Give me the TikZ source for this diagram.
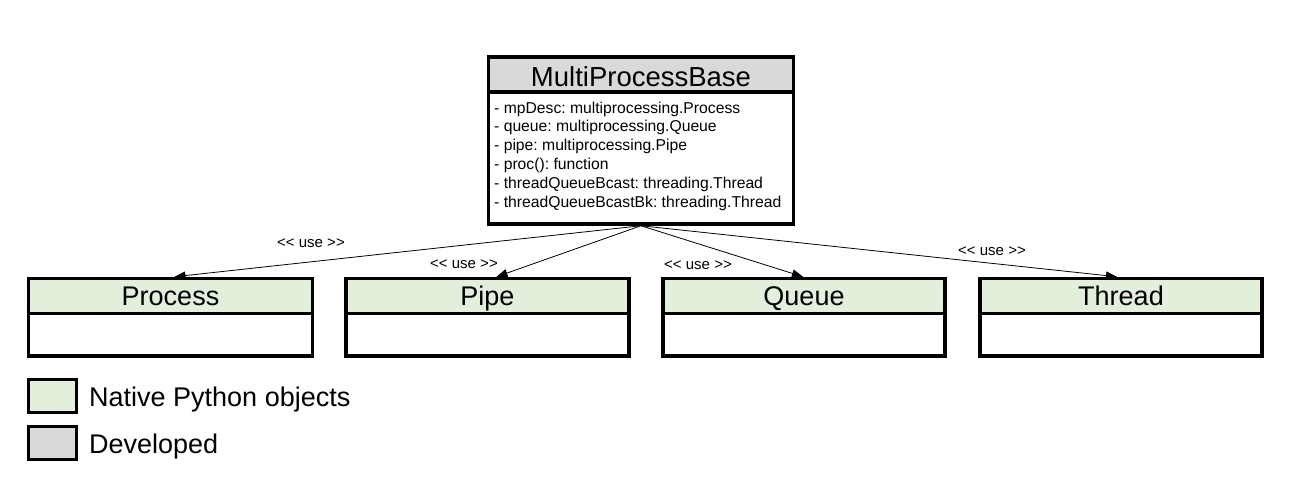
\documentclass[tikz,border=0pt]{standalone}
\usepackage{fontspec}
\setmainfont{Liberation Sans}
\usetikzlibrary{arrows.meta}
\definecolor{natgreen}{HTML}{E2EFDA}
\definecolor{devgray}{HTML}{D9D9D9}
\newcommand{\uselbltext}{\mbox{<}\mbox{<} use \mbox{>}\mbox{>}}
\tikzset{
  boxline/.style={draw=black, line width=3.5pt},
  titlebox/.style={boxline, rectangle, minimum height=35pt, inner sep=0pt, text height=23pt, text depth=4pt, font=\fontsize{27}{30}\selectfont},
  bodybox/.style={boxline, rectangle, fill=white, inner sep=0pt},
  usearrow/.style={draw=black, line width=0.8pt, -{Triangle[length=11pt,width=8pt]}},
  uselabel/.style={font=\fontsize{15}{18}\selectfont, inner sep=1pt},
  legendbox/.style={boxline, rectangle, minimum width=48pt, minimum height=33pt, inner sep=0pt},
  legendtext/.style={anchor=base west, inner sep=0pt, font=\fontsize{27}{32}\selectfont}
}
\begin{document}
\frenchspacing
\begin{tikzpicture}[x=1pt,y=-1pt]
\useasboundingbox (0,0) rectangle (1294,490);
% main class
\node[bodybox, minimum width=305pt, minimum height=132pt] (mainbody) at (641,158) {};
\node[titlebox, fill=devgray, minimum width=305pt, text height=27pt, font=\fontsize{27.5}{30}\selectfont] (main) at (641,74.5) {MultiProcessBase};
\node[anchor=north west, align=left, inner sep=0pt, font=\fontsize{15.7}{18.8}\selectfont\frenchspacing] (attrs) at (494,101.5)
{- mpDesc: multiprocessing.Process\\
- queue: multiprocessing.Queue\\
- pipe: multiprocessing.Pipe\\
- proc(): function\\
- threadQueueBcast: threading.Thread\\
- threadQueueBcastBk: threading.Thread};
% native classes
\node[bodybox, minimum width=284pt, minimum height=43pt] (procb) at (170.5,334.5) {};
\node[titlebox, fill=natgreen, minimum width=284pt] (proc) at (170.5,296) {Process};
\node[bodybox, minimum width=283pt, minimum height=43pt] (pipeb) at (487.5,334.5) {};
\node[titlebox, fill=natgreen, minimum width=283pt] (pipe) at (487.5,296) {Pipe};
\node[bodybox, minimum width=282pt, minimum height=43pt] (queueb) at (804,334.5) {};
\node[titlebox, fill=natgreen, minimum width=282pt] (queue) at (804,296) {Queue};
\node[bodybox, minimum width=282pt, minimum height=43pt] (threadb) at (1121,334.5) {};
\node[titlebox, fill=natgreen, minimum width=282pt] (thread) at (1121,296) {Thread};
% connectors
\coordinate (src) at (mainbody.south);
\draw[usearrow] (src) -- ([xshift=4pt]proc.north);
\draw[usearrow] (src) -- ([xshift=9pt]pipe.north);
\draw[usearrow] (src) -- ([xshift=-1pt]queue.north);
\draw[usearrow] (src) -- ([xshift=-4pt]thread.north);
\node[uselabel] (l1) at (311,243) {\uselbltext};
\node[uselabel] (l2) at (464,264) {\uselbltext};
\node[uselabel] (l3) at (698,265) {\uselbltext};
\node[uselabel] (l4) at (992,251) {\uselbltext};
% legend
\node[legendbox, fill=natgreen] (lg1) at (52.5,396) {};
\node[legendtext] (lt1) at (89,406) {Native Python objects};
\node[legendbox, fill=devgray] (lg2) at (52.5,443) {};
\node[legendtext] (lt2) at (89,453) {Developed};
\end{tikzpicture}
\end{document}
